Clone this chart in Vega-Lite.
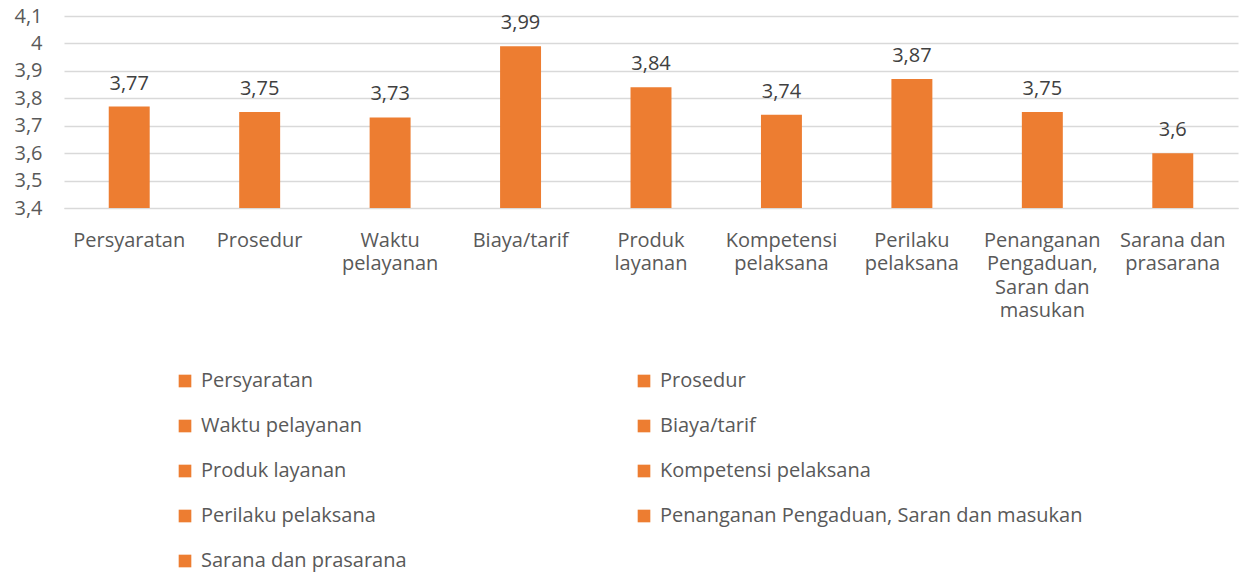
{
  "$schema": "https://vega.github.io/schema/vega-lite/v6.json",
  "width": 1174,
  "height": 192,
  "autosize": {"type": "none"},
  "padding": {"left": 64, "top": 16, "right": 6, "bottom": 367},
  "config": {
    "font": "Open Sans",
    "view": {"stroke": null},
    "locale": {"number": {"decimal": ",", "thousands": ".", "grouping": [3], "currency": ["", ""]}}
  },
  "data": {
    "values": [
      {"kategori": "Persyaratan", "nilai": 3.77},
      {"kategori": "Prosedur", "nilai": 3.75},
      {"kategori": "Waktu pelayanan", "nilai": 3.73},
      {"kategori": "Biaya/tarif", "nilai": 3.99},
      {"kategori": "Produk layanan", "nilai": 3.84},
      {"kategori": "Kompetensi pelaksana", "nilai": 3.74},
      {"kategori": "Perilaku pelaksana", "nilai": 3.87},
      {"kategori": "Penanganan Pengaduan, Saran dan masukan", "nilai": 3.75},
      {"kategori": "Sarana dan prasarana", "nilai": 3.6}
    ]
  },
  "encoding": {
    "x": {
      "field": "kategori", "type": "nominal", "sort": null,
      "scale": {"paddingInner": 0.686, "paddingOuter": 0.343},
      "axis": {
        "title": null, "labelAngle": 0, "ticks": false,
        "domainColor": "#D9D9D9", "domainWidth": 1,
        "labelFontSize": 20, "labelColor": "#595959", "labelPadding": 22,
        "labelLineHeight": 23.5, "labelBaseline": "top", "labelLimit": 200,
        "labelExpr": "datum.value == 'Waktu pelayanan' ? ['Waktu', 'pelayanan'] : datum.value == 'Produk layanan' ? ['Produk', 'layanan'] : datum.value == 'Kompetensi pelaksana' ? ['Kompetensi', 'pelaksana'] : datum.value == 'Perilaku pelaksana' ? ['Perilaku', 'pelaksana'] : datum.value == 'Penanganan Pengaduan, Saran dan masukan' ? ['Penanganan', 'Pengaduan,', 'Saran dan', 'masukan'] : datum.value == 'Sarana dan prasarana' ? ['Sarana dan', 'prasarana'] : datum.value"
      }
    },
    "y": {
      "field": "nilai", "type": "quantitative",
      "scale": {"domain": [3.4, 4.1], "zero": false, "nice": false},
      "axis": {
        "title": null, "values": [3.4, 3.5, 3.6, 3.7, 3.8, 3.9, 4.0, 4.1],
        "format": ".1~f", "domain": false, "ticks": false,
        "gridColor": "#D9D9D9", "gridWidth": 1.5,
        "labelFontSize": 20, "labelColor": "#595959", "labelPadding": 22
      }
    }
  },
  "layer": [
    {
      "mark": {"type": "bar", "clip": true},
      "encoding": {
        "color": {
          "field": "kategori", "type": "nominal", "sort": null,
          "scale": {"range": ["#ED7D31"]},
          "legend": {
            "title": null, "orient": "none", "legendX": 111, "legendY": 355,
            "direction": "horizontal",
            "columns": 2, "gridAlign": "all", "columnPadding": 10, "rowPadding": 25,
            "symbolType": "square", "symbolSize": 160, "symbolStrokeWidth": 0,
            "symbolOpacity": 1,
            "labelFontSize": 20, "labelColor": "#595959", "labelLimit": 600,
            "labelOffset": 6
          }
        }
      }
    },
    {
      "mark": {"type": "text", "baseline": "alphabetic", "dy": -17, "fontSize": 20, "color": "#404040"},
      "encoding": {
        "text": {"field": "nilai", "type": "quantitative", "format": ".2~f"}
      }
    }
  ]
}
